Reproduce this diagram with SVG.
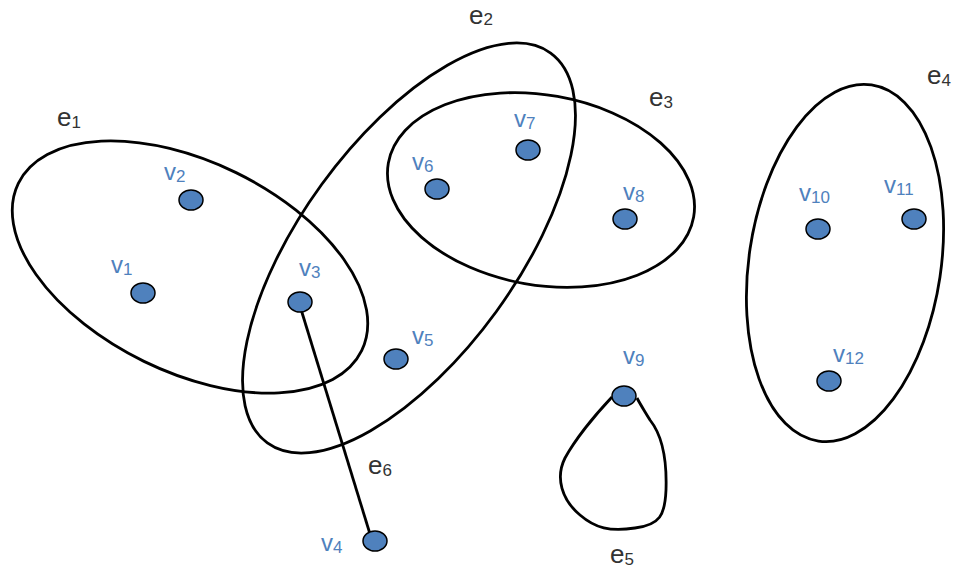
<svg xmlns="http://www.w3.org/2000/svg" width="958" height="569" viewBox="0 0 958 569">
<style>
.he{fill:none;stroke:#000;stroke-width:2.8}
.nd{fill:#4f81bd;stroke:#000;stroke-width:1.5}
.vl{font-family:"Liberation Sans",Arial,sans-serif;font-size:24px;fill:#4f81bd}
.vl tspan{font-size:17px}
.el{font-family:"Liberation Sans",Arial,sans-serif;font-size:26px;fill:#333}
.el tspan{font-size:17px}
</style>
<rect width="958" height="569" fill="#fff"/>
<g id="connectors">
<ellipse id="e1" class="he" cx="190" cy="267" rx="191" ry="105" transform="rotate(26 190 267)"/>
<ellipse id="e2" class="he" cx="409" cy="248" rx="241" ry="108" transform="rotate(-54 409 248)"/>
<ellipse id="e3" class="he" cx="541" cy="190" rx="155" ry="95" transform="rotate(10 541 190)"/>
<ellipse id="e4" class="he" cx="845" cy="263" rx="96" ry="180" transform="rotate(8.5 845 263)"/>
<path id="e5" class="he" d="M612,397 C595,415 575,440 565,458 C555,478 562,500 580,515 C595,528 610,532 635,528 C660,525 665,515 666,490 C667,460 662,435 650,420 C644,410 640,404 637,398"/>
<line id="e6" class="he" x1="300" y1="306" x2="370" y2="534"/>
<text class="el" x="57" y="126">e<tspan dy="2">1</tspan></text>
<text class="el" x="469" y="24">e<tspan dy="1">2</tspan></text>
<text class="el" x="649" y="106">e<tspan dy="2">3</tspan></text>
<text class="el" x="927" y="84">e<tspan dy="2">4</tspan></text>
<text class="el" x="610" y="563">e<tspan dy="2">5</tspan></text>
<text class="el" x="368" y="474">e<tspan dy="2">6</tspan></text>
</g>
<g id="v1"><ellipse class="nd" cx="143" cy="293" rx="12" ry="10"/><text class="vl" x="111" y="273">v<tspan dy="2">1</tspan></text></g>
<g id="v2"><ellipse class="nd" cx="191" cy="200" rx="12" ry="10"/><text class="vl" x="164" y="180">v<tspan dy="2">2</tspan></text></g>
<g id="v3"><ellipse class="nd" cx="300" cy="302" rx="12" ry="10"/><text class="vl" x="299" y="276">v<tspan dy="2">3</tspan></text></g>
<g id="v4"><ellipse class="nd" cx="375" cy="541" rx="12" ry="10"/><text class="vl" x="321" y="551">v<tspan dy="2">4</tspan></text></g>
<g id="v5"><ellipse class="nd" cx="396" cy="359" rx="12" ry="10"/><text class="vl" x="412" y="344">v<tspan dy="2">5</tspan></text></g>
<g id="v6"><ellipse class="nd" cx="437" cy="189" rx="12" ry="10"/><text class="vl" x="412" y="170">v<tspan dy="2">6</tspan></text></g>
<g id="v7"><ellipse class="nd" cx="528" cy="150" rx="12" ry="10"/><text class="vl" x="514" y="127">v<tspan dy="2">7</tspan></text></g>
<g id="v8"><ellipse class="nd" cx="625" cy="219" rx="12" ry="10"/><text class="vl" x="623" y="200">v<tspan dy="2">8</tspan></text></g>
<g id="v9"><ellipse class="nd" cx="624" cy="396" rx="12" ry="10"/><text class="vl" x="623" y="364">v<tspan dy="2">9</tspan></text></g>
<g id="v10"><ellipse class="nd" cx="818" cy="229" rx="12" ry="10"/><text class="vl" x="799" y="201">v<tspan dy="2">10</tspan></text></g>
<g id="v11"><ellipse class="nd" cx="914" cy="219" rx="12" ry="10"/><text class="vl" x="884" y="193">v<tspan dy="2">11</tspan></text></g>
<g id="v12"><ellipse class="nd" cx="829" cy="381" rx="12" ry="10"/><text class="vl" x="833" y="362">v<tspan dy="2">12</tspan></text></g>
</svg>
